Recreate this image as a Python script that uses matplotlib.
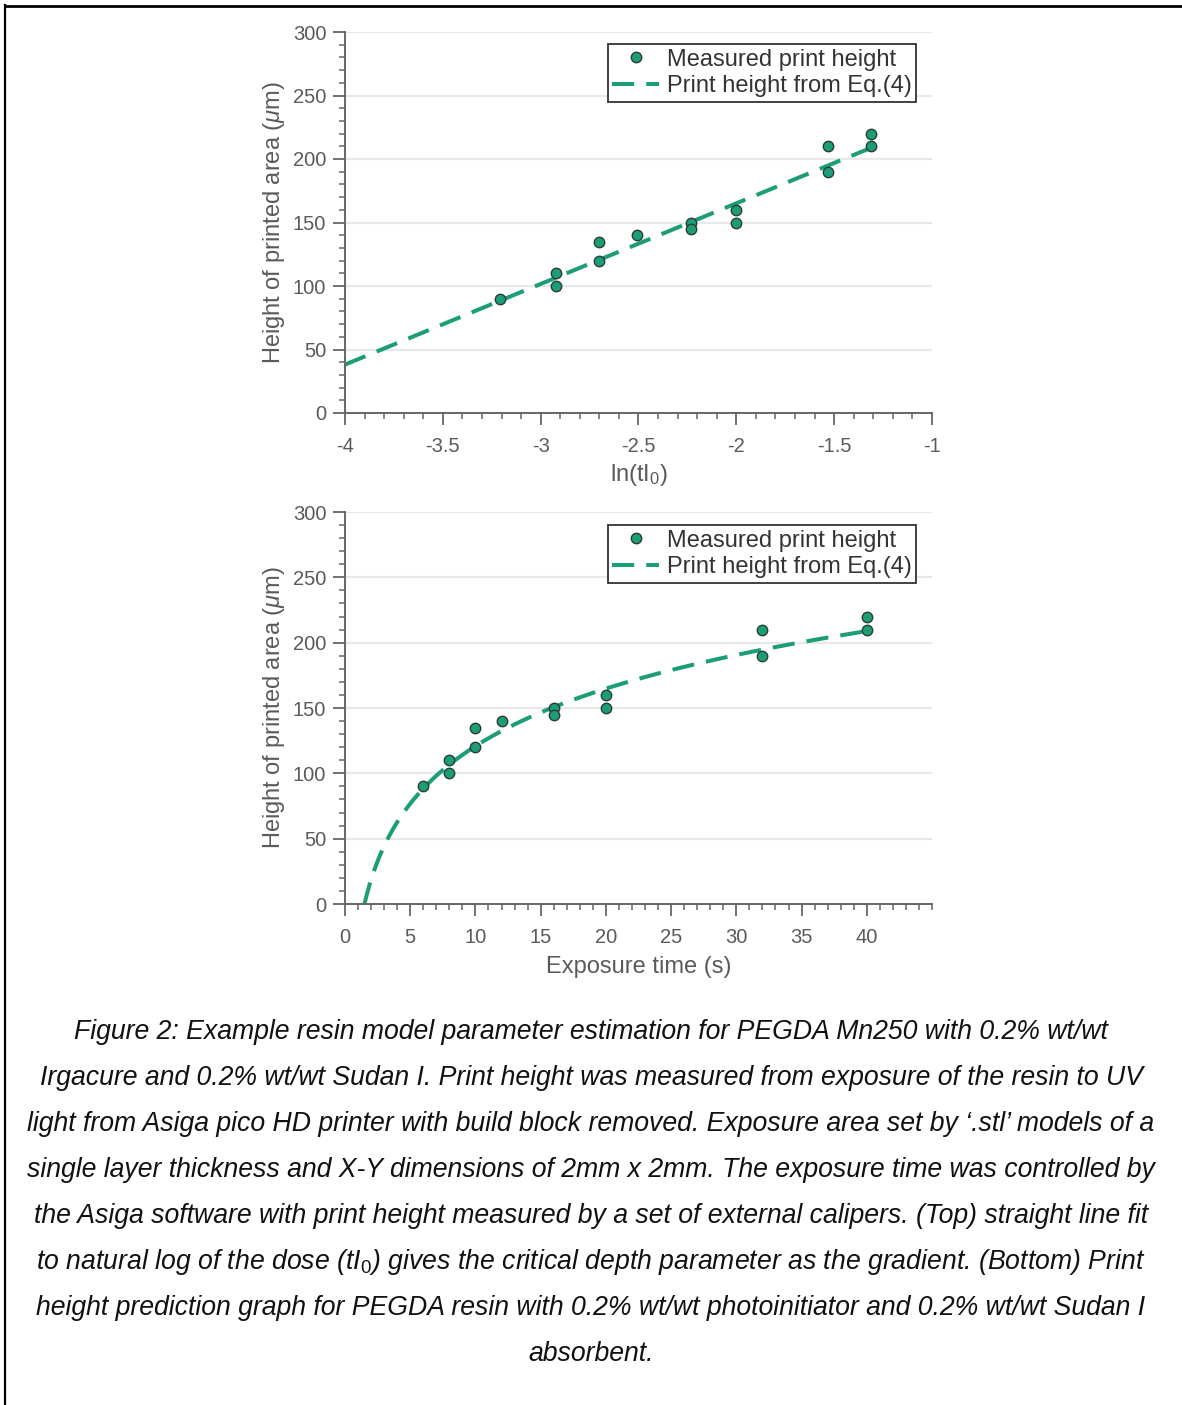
import numpy as np
import matplotlib
matplotlib.use("Agg")
import matplotlib.pyplot as plt
from matplotlib.lines import Line2D
from matplotlib.ticker import MultipleLocator

plt.rcParams['font.family'] = ['Liberation Sans', 'DejaVu Sans']
plt.rcParams['mathtext.fontset'] = 'custom'
plt.rcParams['mathtext.rm'] = 'Liberation Sans'
plt.rcParams['mathtext.it'] = 'Liberation Sans:italic'

# ---- data ----
ln_dose = [-3.21, -2.92, -2.92, -2.70, -2.70, -2.51, -2.23, -2.23, -2.00, -2.00, -1.53, -1.53, -1.31, -1.31]
exposure_time = [6, 8, 8, 10, 10, 12, 16, 16, 20, 20, 32, 32, 40, 40]
height = [90, 110, 100, 135, 120, 140, 150, 145, 160, 150, 210, 190, 220, 210]

# fit parameters of Eq.(4): h = Dp * (ln(t I0) - ln(Ec))
Dp = 63.5          # critical depth (um)
ln_Ec = -4.60      # ln of critical dose
ln_I0 = -5.00      # ln of intensity
top_fit_range = (-4.0, -1.31)
bottom_fit_end = 40

legend_labels = ['Measured print height', 'Print height from Eq.(4)']
ylabel = r'Height of printed area ($\mu$m)'
xlabel_top = r'ln(tI$_0$)'
xlabel_bottom = 'Exposure time (s)'

caption_lines = [
    "Figure 2: Example resin model parameter estimation for PEGDA Mn250 with 0.2% wt/wt",
    "Irgacure and 0.2% wt/wt Sudan I. Print height was measured from exposure of the resin to UV",
    "light from Asiga pico HD printer with build block removed. Exposure area set by \u2018.stl\u2019 models of a",
    "single layer thickness and X-Y dimensions of 2mm x 2mm. The exposure time was controlled by",
    "the Asiga software with print height measured by a set of external calipers. (Top) straight line fit",
    r"to natural log of the dose (tI$_\mathit{0}$) gives the critical depth parameter as the gradient. (Bottom) Print",
    "height prediction graph for PEGDA resin with 0.2% wt/wt photoinitiator and 0.2% wt/wt Sudan I",
    "absorbent.",
]

GREEN = '#1b9e77'
EDGE = '#2b3d33'
GRAY = '#5a5a5a'
W, H = 1182, 1405

fig = plt.figure(figsize=(W / 100, H / 100), dpi=100)


def style(ax, xlim, xmaj, xmin):
    ax.set_ylim(0, 300)
    ax.set_xlim(*xlim)
    ax.yaxis.set_major_locator(MultipleLocator(50))
    ax.yaxis.set_minor_locator(MultipleLocator(10))
    ax.xaxis.set_major_locator(MultipleLocator(xmaj))
    ax.xaxis.set_minor_locator(MultipleLocator(xmin))
    for s in ['top', 'right']:
        ax.spines[s].set_visible(False)
    for s in ['left', 'bottom']:
        ax.spines[s].set_color('#666666')
        ax.spines[s].set_linewidth(1.4)
    ax.tick_params(which='major', direction='out', length=8.5, width=1.3, colors='#666666',
                   labelcolor=GRAY, labelsize=14.5, pad=5)
    ax.tick_params(axis='x', which='major', pad=9)
    ax.tick_params(which='minor', direction='out', length=4.5, width=1.1, colors='#666666')
    ax.grid(axis='y', which='major', color='#e8e8e8', lw=1.6)
    ax.set_axisbelow(True)
    ax.set_ylabel(ylabel, fontsize=17, color=GRAY, labelpad=4)


def legend(ax, yanchor):
    h = [Line2D([], [], ls='none', marker='o', ms=7.5, mfc=GREEN, mec=EDGE, mew=1.0),
         Line2D([], [], color=GREEN, lw=2.9, ls=(0, (5.5, 3)))]
    lg = ax.legend(h, legend_labels, loc='upper right', bbox_to_anchor=(0.973, yanchor),
                   borderaxespad=0, fancybox=False, fontsize=17, handlelength=2.0,
                   handletextpad=0.3, borderpad=0.2, labelspacing=0.2, framealpha=1)
    lg.get_frame().set_edgecolor('#333333')
    lg.get_frame().set_linewidth(1.3)
    for t in lg.get_texts():
        t.set_color('#333333')


# top axes
ax1 = fig.add_axes([345 / W, 1 - 413 / H, 587 / W, 381 / H])
style(ax1, (-4, -1), 0.5, 0.1)
xf = np.linspace(top_fit_range[0], top_fit_range[1], 200)
ax1.plot(xf, Dp * (xf - ln_Ec), color=GREEN, lw=2.9, ls=(0, (5.5, 3)), zorder=2)
ax1.plot(ln_dose, height, ls='none', marker='o', ms=7.5, mfc=GREEN, mec=EDGE, mew=1.0, zorder=3)
ax1.set_xticks([-4, -3.5, -3, -2.5, -2, -1.5, -1])
ax1.set_xticklabels(['-4', '-3.5', '-3', '-2.5', '-2', '-1.5', '-1'])
ax1.set_xlabel(xlabel_top, fontsize=17, color=GRAY, labelpad=4)
legend(ax1, 0.9685)

# bottom axes
ax2 = fig.add_axes([345 / W, 1 - 904 / H, 587 / W, 392 / H])
style(ax2, (0, 45), 5, 1)
ax2.set_xticks([0, 5, 10, 15, 20, 25, 30, 35, 40])
tf = np.linspace(np.exp(ln_Ec - ln_I0), bottom_fit_end, 400)
ax2.plot(tf, Dp * (np.log(tf) + ln_I0 - ln_Ec), color=GREEN, lw=2.9, ls=(0, (5.5, 3)), zorder=2)
ax2.plot(exposure_time, height, ls='none', marker='o', ms=7.5, mfc=GREEN, mec=EDGE, mew=1.0, zorder=3)
ax2.set_xlabel(xlabel_bottom, fontsize=17, color=GRAY, labelpad=6)
legend(ax2, 0.9668)

# caption
y0 = 1032
for i, line in enumerate(caption_lines):
    fig.text(0.5, 1 - (y0 + 46 * i) / H, line, ha='center', va='center',
             fontsize=19.2, style='italic', color='#111111')

# frame lines (left and top)
fig.add_artist(Line2D([5 / W, 5 / W], [0, 1 - 5 / H], transform=fig.transFigure, color='black', lw=1.6))
fig.add_artist(Line2D([5 / W, 1], [1 - 6 / H, 1 - 6 / H], transform=fig.transFigure, color='black', lw=2.0))

fig.savefig('out.png', dpi=100)
